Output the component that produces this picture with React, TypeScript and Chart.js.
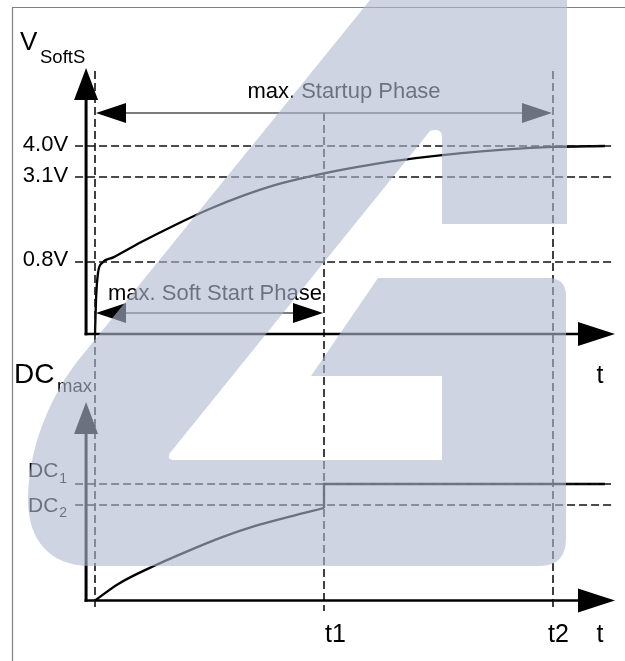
import React, { useEffect, useRef } from 'react';
import { Chart, registerables } from 'chart.js';

Chart.register(...registerables);

// ---- schematic data (time in units of t1; t2 = 2 * t1) ----
const T1 = 1;
const T2 = 2;
const T_AXIS = -0.039;
const T_DASH_LEFT = -0.087;
const T_DASH_RIGHT = 2.271;
const T_ARROW_TIP = 2.2707;

// V_SoftS panel (schematic heights, 4.0V level = 4.0)
const vTickLabels = ['0.8V', '3.1V', '4.0V'];
const vTickLevels = [1.532, 3.34, 4.0];
const vCurveT = [0, 0.0044, 0.0131, 0.0306, 0.08, 0.2, 0.35, 0.5, 0.65, 0.8, 1.0, 1.2, 1.4, 1.6, 1.8, 2.0, 2.227];
const vCurveV = [0, 0.723, 1.298, 1.511, 1.63, 1.95, 2.32, 2.66, 2.95, 3.19, 3.42, 3.6, 3.74, 3.85, 3.93, 3.98, 4.0];
const vAxisTop = 5.66;
const vDashTop = 5.596;
const vDashBottom = -5.894;
const vStartupArrowLevel = 4.702;
const vSoftArrowLevel = 0.447;

// DC panel (schematic heights, DC1 level = 1.0)
const dcTickNames = ['DC', 'DC'];
const dcTickSubs = ['1', '2'];
const dcTickLevels = [1.0, 0.82];
const dcCurveT = [0, 0.1, 0.25, 0.4, 0.55, 0.7, 0.85, 1.0];
const dcCurveD = [0, 0.14, 0.29, 0.42, 0.54, 0.64, 0.72, 0.794];
const dcStepT = [1.0, 1.0, 2.227];
const dcStepD = [0.794, 1.0, 1.0];
const dcAxisTop = 1.704;

const FONT = '"Liberation Sans", Arial, Helvetica, sans-serif';

const zip = (xs: number[], ys: number[]) => xs.map((x, i) => ({ x, y: ys[i] }));

function drawHead(ctx: CanvasRenderingContext2D, tx: number, ty: number, dx: number, dy: number, len: number, half: number, color: string) {
  const bx = tx - dx * len;
  const by = ty - dy * len;
  const px = -dy;
  const py = dx;
  ctx.beginPath();
  ctx.moveTo(tx, ty);
  ctx.lineTo(bx + px * half, by + py * half);
  ctx.lineTo(bx - px * half, by - py * half);
  ctx.closePath();
  ctx.fillStyle = color;
  ctx.fill();
}

const diagramPlugin = {
  id: 'diagram',
  beforeDatasetsDraw(chart: any) {
    const ctx: CanvasRenderingContext2D = chart.ctx;
    ctx.save();
    ctx.strokeStyle = '#808080';
    ctx.lineWidth = 1.2;
    ctx.beginPath();
    ctx.moveTo(12.5, 661);
    ctx.lineTo(12.5, 7.5);
    ctx.lineTo(625, 7.5);
    ctx.stroke();
    ctx.restore();
  },
  afterDatasetsDraw(chart: any) {
    const ctx: CanvasRenderingContext2D = chart.ctx;
    const xs = chart.scales.x;
    const yv = chart.scales.yV;
    const yd = chart.scales.yD;
    const X = (t: number) => xs.getPixelForValue(t);
    ctx.save();

    // axes with arrow heads
    const axis = (ys: any, top: number, wV: number, wH: number) => {
      const ax = X(T_AXIS);
      const ay0 = ys.getPixelForValue(0);
      const ayTop = ys.getPixelForValue(top);
      const hx = X(T_ARROW_TIP);
      ctx.strokeStyle = '#000';
      ctx.lineCap = 'butt';
      ctx.lineWidth = wV;
      ctx.beginPath();
      ctx.moveTo(ax, ay0 + wH / 2);
      ctx.lineTo(ax, ayTop + 26);
      ctx.stroke();
      drawHead(ctx, ax, ayTop, 0, -1, 32, 12, '#000');
      ctx.lineWidth = wH;
      ctx.beginPath();
      ctx.moveTo(ax - wV / 2, ay0);
      ctx.lineTo(hx - 30, ay0);
      ctx.stroke();
      drawHead(ctx, hx, ay0, 1, 0, 37, 12, '#000');
    };
    axis(yv, vAxisTop, 3, 2.6);
    axis(yd, dcAxisTop, 3, 2.6);

    // double-headed phase arrows
    const dbl = (level: number, t0: number, t1: number) => {
      const y = yv.getPixelForValue(level);
      const x0 = X(t0) + 1;
      const x1 = X(t1) - 1;
      ctx.strokeStyle = '#505050';
      ctx.lineWidth = 1.5;
      ctx.beginPath();
      ctx.moveTo(x0 + 20, y);
      ctx.lineTo(x1 - 20, y);
      ctx.stroke();
      drawHead(ctx, x0, y, -1, 0, 30, 10, '#000');
      drawHead(ctx, x1, y, 1, 0, 30, 10, '#000');
    };
    dbl(vStartupArrowLevel, 0, T2);
    dbl(vSoftArrowLevel, 0, T1);

    ctx.fillStyle = '#000';
    ctx.textBaseline = 'alphabetic';

    // phase texts
    ctx.font = `22px ${FONT}`;
    ctx.textAlign = 'center';
    ctx.fillText('max. Startup Phase', (X(0) + X(T2)) / 2 + 20, yv.getPixelForValue(vStartupArrowLevel) - 15);
    ctx.textAlign = 'left';
    ctx.fillText('max. Soft Start Phase', X(0) + 13, yv.getPixelForValue(vSoftArrowLevel) - 13);

    // V tick labels
    ctx.textAlign = 'right';
    ctx.font = `22px ${FONT}`;
    vTickLabels.forEach((lab, i) => {
      ctx.fillText(lab, X(T_AXIS) - 18, yv.getPixelForValue(vTickLevels[i]) + 4.5);
    });

    // DC tick labels
    const dcBase = [-7, 7];
    const dcSubBase = [-1, 12];
    dcTickNames.forEach((nm, i) => {
      const y = yd.getPixelForValue(dcTickLevels[i]);
      ctx.textAlign = 'left';
      ctx.font = `21px ${FONT}`;
      ctx.fillText(nm, 28, y + dcBase[i]);
      const w = ctx.measureText(nm).width;
      ctx.font = `14px ${FONT}`;
      ctx.fillText(dcTickSubs[i], 28 + w + 1, y + dcSubBase[i]);
    });

    // axis titles
    ctx.textAlign = 'left';
    ctx.font = `26px ${FONT}`;
    ctx.fillText('V', 20, 50);
    ctx.font = `18.5px ${FONT}`;
    ctx.fillText('SoftS', 40, 62.5);
    ctx.font = `28px ${FONT}`;
    ctx.fillText('DC', 14, 383);
    ctx.font = `18.5px ${FONT}`;
    ctx.fillText('max', 57, 392);

    // time labels
    ctx.font = `25px ${FONT}`;
    const yTop0 = yv.getPixelForValue(0);
    const yBot0 = yd.getPixelForValue(0);
    ctx.textAlign = 'center';
    ctx.fillText('t', X(T_ARROW_TIP) - 15, yTop0 + 49);
    ctx.fillText('t', X(T_ARROW_TIP) - 15, yBot0 + 41);
    ctx.textAlign = 'left';
    ctx.fillText('t1', X(T1) + 1, yBot0 + 41);
    ctx.fillText('t2', X(T2) - 5, yBot0 + 41);

    ctx.restore();
  },
  afterDraw(chart: any) {
    // translucent logo watermark overlay
    const ctx: CanvasRenderingContext2D = chart.ctx;
    ctx.save();
    ctx.fillStyle = 'rgba(177,184,208,0.61)';
    ctx.beginPath();
    ctx.moveTo(370, 0);
    ctx.lineTo(567, 0);
    ctx.lineTo(567, 224);
    ctx.lineTo(442, 224);
    ctx.lineTo(442, 135);
    ctx.quadraticCurveTo(440, 128, 430, 131);
    ctx.lineTo(170, 453);
    ctx.quadraticCurveTo(166, 460, 175, 460);
    ctx.lineTo(442, 460);
    ctx.lineTo(442, 376);
    ctx.lineTo(311, 376);
    ctx.lineTo(378, 278);
    ctx.lineTo(548, 278);
    ctx.quadraticCurveTo(566, 278, 566, 296);
    ctx.lineTo(566, 538);
    ctx.quadraticCurveTo(566, 566, 540, 566);
    ctx.lineTo(90, 566);
    ctx.bezierCurveTo(50, 566, 28, 540, 28, 500);
    ctx.bezierCurveTo(28, 455, 45, 405, 76, 363);
    ctx.closePath();
    ctx.fill();
    ctx.restore();
  },
};

export default function App() {
  const ref = useRef<HTMLCanvasElement | null>(null);

  useEffect(() => {
    if (!ref.current) return;
    const dashed = (data: { x: number; y: number }[], axisId: string) => ({
      data,
      yAxisID: axisId,
      borderColor: '#111',
      borderWidth: 1.6,
      borderDash: [8, 4],
      pointRadius: 0,
      tension: 0,
      fill: false,
    });
    const datasets: any[] = [];
    vTickLevels.forEach((lv) => datasets.push(dashed([{ x: T_DASH_LEFT, y: lv }, { x: T_DASH_RIGHT, y: lv }], 'yV')));
    dcTickLevels.forEach((lv) => datasets.push(dashed([{ x: T_DASH_LEFT, y: lv }, { x: T_DASH_RIGHT, y: lv }], 'yD')));
    datasets.push(dashed([{ x: 0, y: vDashTop }, { x: 0, y: vDashBottom }], 'yV'));
    datasets.push(dashed([{ x: T1, y: vStartupArrowLevel }, { x: T1, y: vDashBottom }], 'yV'));
    datasets.push(dashed([{ x: T2, y: vDashTop }, { x: T2, y: vDashBottom }], 'yV'));
    datasets.push({
      data: zip(vCurveT, vCurveV),
      yAxisID: 'yV',
      borderColor: '#000',
      borderWidth: 2.3,
      pointRadius: 0,
      cubicInterpolationMode: 'monotone',
      fill: false,
    });
    datasets.push({
      data: zip(dcCurveT, dcCurveD),
      yAxisID: 'yD',
      borderColor: '#000',
      borderWidth: 2.3,
      pointRadius: 0,
      cubicInterpolationMode: 'monotone',
      fill: false,
    });
    datasets.push({
      data: zip(dcStepT, dcStepD),
      yAxisID: 'yD',
      borderColor: '#000',
      borderWidth: 2.3,
      pointRadius: 0,
      tension: 0,
      fill: false,
    });

    const chart = new Chart(ref.current, {
      type: 'line',
      data: { datasets },
      options: {
        animation: false,
        responsive: false,
        devicePixelRatio: 1,
        events: [],
        layout: { padding: 0 },
        plugins: { legend: { display: false }, title: { display: false }, tooltip: { enabled: false } },
        scales: {
          x: { type: 'linear', min: -0.41485, max: 2.31441, display: false },
          yV: { type: 'linear', min: -6.9574, max: 7.1064, display: false },
          yD: { type: 'linear', min: -0.5193, max: 5.1545, display: false },
        },
      },
      plugins: [diagramPlugin],
    } as any);
    return () => chart.destroy();
  }, []);

  return (
    <div style={{ position: 'fixed', left: 0, top: 0, width: 625, height: 661, background: '#fff' }}>
      <canvas ref={ref} width={625} height={661} style={{ display: 'block', width: 625, height: 661 }} />
    </div>
  );
}
